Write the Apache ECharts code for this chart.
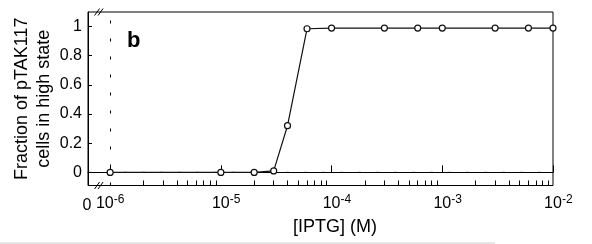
<!DOCTYPE html>
<html>
<head>
<meta charset="utf-8">
<script src="https://cdn.jsdelivr.net/npm/echarts@6/dist/echarts.min.js"></script>
<style>
html,body{margin:0;padding:0;background:#fff;}
#c{width:592px;height:244px;}
</style>
</head>
<body>
<div id="c"></div>
<script>
// IPTG concentration (M); the first point stands for zero IPTG, drawn at 1e-6
var iptg = [1e-6, 1e-5, 2e-5, 3e-5, 4e-5, 6e-5, 1e-4, 3e-4, 6e-4, 1e-3, 3e-3, 6e-3, 1e-2];
// Fraction of pTAK117 cells in high state
var fractionHigh = [0, 0, 0, 0.01, 0.32, 0.985, 0.99, 0.99, 0.99, 0.99, 0.99, 0.99, 0.99];
// axis extents and tick labels
var xMin = Math.pow(10, -6.2), xMax = 1e-2;
var yMin = -0.09, yMax = 1.1;
var xDecades = [1e-6, 1e-5, 1e-4, 1e-3, 1e-2];
var xDecadeExp = ['-6', '-5', '-4', '-3', '-2'];
var xZeroLabel = '0';
var yTicks = [0, 0.2, 0.4, 0.6, 0.8, 1];
var yTickLabels = ['0', '0.2', '0.4', '0.6', '0.8', '1'];
var minorMultipliers = [2, 3, 4, 5, 6, 7, 8, 9];
var breakAt = Math.pow(10, -6.1);
// dashed reference line at zero fraction, spanning the whole x range
var zeroLineX = [xMin, xMax];
var zeroLineY = [0, 0];

var xMinor = [];
for (var d = 0; d < xDecades.length - 1; d++) {
  minorMultipliers.forEach(function (k) { xMinor.push(k * xDecades[d]); });
}

var FONT = '"Liberation Sans", Arial, sans-serif';
var chart = echarts.init(document.getElementById('c'));
var pts = iptg.map(function (x, i) { return [x, fractionHigh[i]]; });

function nearestIndex(list, v, useLog) {
  var best = 0, bd = Infinity;
  list.forEach(function (t, j) {
    var dd = useLog ? Math.abs(Math.log(t) - Math.log(v)) : Math.abs(t - v);
    if (dd < bd) { bd = dd; best = j; }
  });
  return best;
}
var dashStyle = { color: '#000', width: 1, type: [3, 15] };

chart.setOption({
  animation: false,
  backgroundColor: '#fff',
  grid: { left: 88, right: 39, top: 12, bottom: 58.5, show: true, borderColor: '#000', borderWidth: 1, backgroundColor: 'transparent' },
  xAxis: [{
    type: 'log', logBase: 10, min: xMin, max: xMax, position: 'bottom',
    name: '[IPTG] (M)', nameLocation: 'middle', nameGap: 33,
    nameTextStyle: { fontFamily: FONT, fontSize: 18, color: '#000', padding: [0, 0, 0, 29] },
    axisLine: { show: true, lineStyle: { color: '#000', width: 1 } },
    axisTick: { show: true, inside: true, length: 7, customValues: xDecades, lineStyle: { color: '#000', width: 1 } },
    minorTick: { show: false },
    splitLine: { show: false },
    axisLabel: {
      show: true, margin: 8, hideOverlap: false,
      customValues: xDecades,
      fontFamily: FONT, color: '#000',
      formatter: function (v) {
        var i = nearestIndex(xDecades, v, true);
        var e = xDecadeExp[i];
        // first label sits just right of the axis break, so it is not offset
        return (i === 0 ? '' : '{h|' + e + '}') + '{b|10}{s|' + e + '}';
      },
      rich: {
        b: { fontFamily: FONT, fontSize: 16, color: '#000', verticalAlign: 'bottom' },
        s: { fontFamily: FONT, fontSize: 12, color: '#000', verticalAlign: 'top', padding: [0, 0, 6, 0] },
        h: { fontFamily: FONT, fontSize: 12, color: 'rgba(0,0,0,0)', verticalAlign: 'top', padding: [0, 0, 6, 0] }
      }
    }
  }, {
    type: 'log', logBase: 10, min: xMin, max: xMax, position: 'bottom',
    axisLine: { show: false },
    axisTick: { show: true, inside: true, length: 5, customValues: xMinor, lineStyle: { color: '#000', width: 1 } },
    axisLabel: { show: false },
    splitLine: { show: false }
  }],
  yAxis: {
    type: 'value', min: yMin, max: yMax,
    name: 'Fraction of pTAK117\ncells in high state', nameLocation: 'middle', nameGap: 33, nameRotate: 90,
    nameMoveOverlap: false,
    nameTextStyle: { fontFamily: FONT, fontSize: 18, color: '#000', lineHeight: 22, align: 'center' },
    axisLine: { show: true, lineStyle: { color: '#000', width: 1 } },
    axisTick: { show: true, inside: true, length: 4, customValues: yTicks, lineStyle: { color: '#000', width: 1 } },
    splitLine: { show: false },
    axisLabel: {
      fontFamily: FONT, fontSize: 16, color: '#000', margin: 6,
      customValues: yTicks,
      formatter: function (v) { return yTickLabels[nearestIndex(yTicks, v, false)]; }
    }
  },
  series: [{
    type: 'line', data: pts, xAxisIndex: 0,
    symbol: 'circle', symbolSize: 6, showSymbol: true,
    itemStyle: { color: '#fff', borderColor: '#111', borderWidth: 1.2 },
    lineStyle: { color: '#111', width: 1.2 },
    z: 5,
    markLine: {
      silent: true, symbol: ['none', 'none'], animation: false,
      label: { show: false },
      lineStyle: dashStyle,
      data: [ [{ coord: [iptg[0], yMin] }, { coord: [iptg[0], yMax] }] ]
    }
  }]
});

// zero reference line, axis-break marks "//" and the "0" origin label, placed through the axis scales
var zx0 = chart.convertToPixel({ xAxisIndex: 0 }, zeroLineX[0]);
var zx1 = chart.convertToPixel({ xAxisIndex: 0 }, zeroLineX[1]);
var zy0 = chart.convertToPixel({ yAxisIndex: 0 }, zeroLineY[0]);
var zy1 = chart.convertToPixel({ yAxisIndex: 0 }, zeroLineY[1]);
var bx = chart.convertToPixel({ xAxisIndex: 0 }, breakAt);
var x0 = chart.convertToPixel({ xAxisIndex: 0 }, xMin);
var yb = chart.convertToPixel({ yAxisIndex: 0 }, yMin);
var yt = chart.convertToPixel({ yAxisIndex: 0 }, yMax);
function breakMark(cy) {
  var out = [];
  [-2, 1.5].forEach(function (o) {
    out.push({ type: 'line', z: 100,
      shape: { x1: bx + o - 2.5, y1: cy + 3.5, x2: bx + o + 2.5, y2: cy - 3.5 },
      style: { stroke: '#000', lineWidth: 1 } });
  });
  return out;
}
var gfx = [{
  type: 'line', z: 1, silent: true,
  shape: { x1: zx0, y1: zy0, x2: zx1, y2: zy1 },
  style: { stroke: '#000', lineWidth: 1, lineDash: [3, 15] }
}];
gfx = gfx.concat(breakMark(yb), breakMark(yt));
gfx.push({ type: 'text', x: x0 - 1, y: yb + 12, z: 100,
  style: { text: xZeroLabel, font: '16px ' + FONT, fill: '#000', align: 'center', verticalAlign: 'top' } });
gfx.push({ type: 'text', left: 127, top: 30, z: 100,
  style: { text: 'b', font: 'bold 22px ' + FONT, fill: '#000' } });
gfx.push({ type: 'rect', z: -1, shape: { x: 0, y: 242, width: 495, height: 2 }, style: { fill: '#e6e6e6' } });
chart.setOption({ graphic: gfx });
</script>
</body>
</html>
